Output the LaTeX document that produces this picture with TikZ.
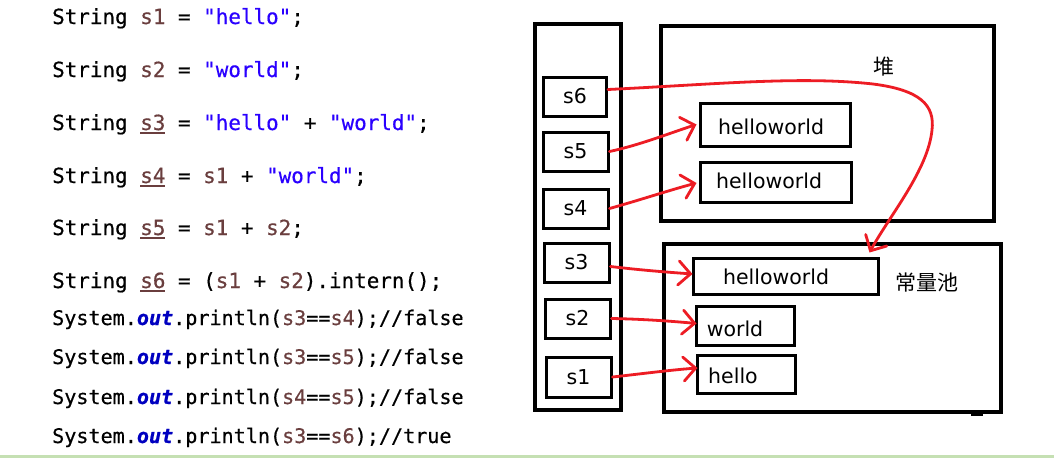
\documentclass[tikz,border=0pt]{standalone}
\usepackage{fontspec}
\usetikzlibrary{arrows.meta,calc}
\newfontfamily\codefont[FakeBold=0.5]{DejaVu Sans Mono}
\newfontfamily\lblfont{DejaVu Sans}
\newfontfamily\cjkfont{Noto Sans CJK SC}
\definecolor{varc}{HTML}{6A3E3E}
\definecolor{strc}{HTML}{2A00FF}
\definecolor{outc}{HTML}{0000C0}
\definecolor{arrred}{HTML}{ED1C24}
\definecolor{barg}{HTML}{C5E0B3}
\newsavebox\myubox
\newcommand{\cvar}[1]{\textcolor{varc}{#1}}
\newcommand{\cuvar}[1]{\textcolor{varc}{\sbox\myubox{#1}\rlap{\rule[-3.5pt]{\wd\myubox}{1.3pt}}\usebox\myubox}}
\newcommand{\cstr}[1]{\textcolor{strc}{#1}}
\newcommand{\cout}{\textcolor{outc}{\bfseries\itshape out}}
\begin{document}
\begin{tikzpicture}[x=1pt,y=-1pt,
  code/.style={anchor=base west, inner sep=0pt, font=\codefont\fontsize{20.9}{24}\selectfont},
  codeb/.style={anchor=base west, inner sep=0pt, font=\codefont\fontsize{20.1}{24}\selectfont},
  memframe/.style={draw, line width=3.2pt, inner sep=0pt},
  slot/.style={draw, line width=3pt, inner sep=0pt, minimum width=65pt, minimum height=39pt, font=\lblfont\fontsize{20.5}{24}\selectfont},
  strbox/.style={draw, line width=3pt, inner sep=0pt},
  lbl/.style={anchor=base, inner sep=0pt, font=\lblfont\fontsize{20.5}{24}\selectfont},
  cjk/.style={inner sep=0pt, font=\cjkfont\fontsize{21}{24}\selectfont},
  ptr/.style={draw=arrred, line width=2.8pt, line cap=round, -{Straight Barb[length=12pt,width=24pt,line cap=round]}}
]
\useasboundingbox (0,0) rectangle (1054,458);
\fill[white] (0,0) rectangle (1054,458);
\fill[barg] (0,455) rectangle (1054,458);

% code
\node[code] (c1) at (52,24) {String \cvar{s1} = \cstr{"hello"};};
\node[code] (c2) at (52,77) {String \cvar{s2} = \cstr{"world"};};
\node[code] (c3) at (52,130) {String \cuvar{s3} = \cstr{"hello"} + \cstr{"world"};};
\node[code] (c4) at (52,183) {String \cuvar{s4} = \cvar{s1} + \cstr{"world"};};
\node[code] (c5) at (52,235) {String \cuvar{s5} = \cvar{s1} + \cvar{s2};};
\node[code] (c6) at (52,288) {String \cuvar{s6} = (\cvar{s1} + \cvar{s2}).intern();};
\node[codeb] (c7) at (52,325) {System.\cout.println(\cvar{s3}==\cvar{s4});//false};
\node[codeb] (c8) at (52,364) {System.\cout.println(\cvar{s3}==\cvar{s5});//false};
\node[codeb] (c9) at (52,404) {System.\cout.println(\cvar{s4}==\cvar{s5});//false};
\node[codeb] (c10) at (52,443) {System.\cout.println(\cvar{s3}==\cvar{s6});//true};

% stack
\node[memframe, minimum width=86pt, minimum height=386pt] (stack) at (578,217) {};
\node[slot, minimum width=63pt] (s6) at (575,96.5) {s6};
\node[slot] (s5) at (575.5,151.5) {s5};
\node[slot] (s4) at (575.5,208.5) {s4};
\node[slot] (s3) at (576.5,262.5) {s3};
\node[slot] (s2) at (577.5,318.5) {s2};
\node[slot, minimum height=40pt] (s1) at (578.5,377) {s1};

% heap
\node[memframe, minimum width=333pt, minimum height=195pt] (heap) at (827.5,123.5) {};
\node[cjk] (heapt) at (884,67) {堆};
\node[strbox, minimum width=150pt, minimum height=43pt] (h1) at (775,124.5) {};
\node[lbl] (h1t) at (771,134) {helloworld};
\node[strbox, minimum width=151pt, minimum height=40pt] (h2) at (775.5,182) {};
\node[lbl] (h2t) at (769,188) {helloworld};

% constant pool
\node[memframe, minimum width=337pt, minimum height=168pt] (pool) at (832.5,328) {};
\fill (971,410) rectangle (983,416);
\node[cjk] (poolt) at (927,283) {常量池};
\node[strbox, minimum width=185pt, minimum height=36pt] (p3) at (785.5,276) {};
\node[lbl] (p3t) at (776,284) {helloworld};
\node[strbox, minimum width=98pt, minimum height=39pt] (pw) at (745,325.5) {};
\node[lbl] (pwt) at (735,336) {world};
\node[strbox, minimum width=98pt, minimum height=38pt] (ph) at (746,374) {};
\node[lbl] (pht) at (733,383) {hello};

% pointers
\draw[ptr] (s5.east) .. controls (640,145) and (670,133) .. ($(h1.west)+(-2,0)$);
\draw[ptr] (s4.east) .. controls (640,200) and (670,190) .. ($(h2.west)+(-2,1)$);
\draw[ptr] ($(s3.east)+(0,4)$) .. controls (640,270) and (665,272) .. ($(p3.west)+(1,-2)$);
\draw[ptr] (s2.east) .. controls (640,319) and (670,321) .. ($(pw.west)+(2,-2)$);
\draw[ptr] (s1.east) .. controls (640,374) and (670,370) .. ($(ph.west)+(2,-6)$);
\draw[ptr] ($(s6.east)+(0,-7)$) .. controls (720,84) and (800,76) .. (873,84)
   .. controls (920,90) and (935,105) .. (932,130)
   .. controls (928,170) and (890,215) .. ($(p3.north east)+(-10,-4)$);
\end{tikzpicture}
\end{document}
